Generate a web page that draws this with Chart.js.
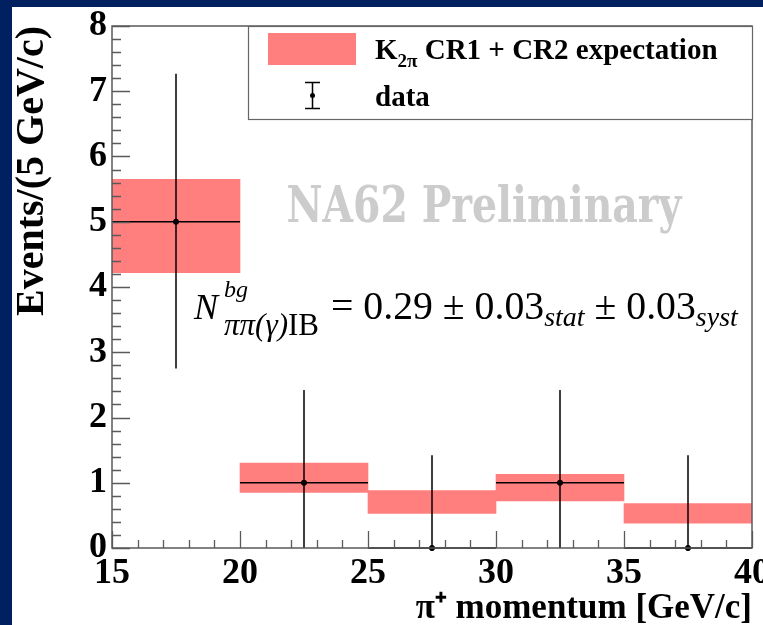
<!DOCTYPE html>
<html>
<head>
<meta charset="utf-8">
<script src="https://cdn.jsdelivr.net/npm/chart.js@4.4.1/dist/chart.umd.min.js"></script>
<style>
  html, body { margin: 0; padding: 0; background: #ffffff; }
  #wrap { position: relative; width: 763px; height: 625px; }
  canvas { display: block; }
</style>
</head>
<body>
<div id="wrap"><canvas id="c" width="763" height="625"></canvas></div>
<script>
// ---- data ----
const binLow   = [15, 20, 25, 30, 35];
const binHigh  = [20, 25, 30, 35, 40];
const expLow   = [4.22, 0.85, 0.53, 0.72, 0.38];   // K2pi expectation band, lower edge
const expHigh  = [5.65, 1.30, 0.88, 1.13, 0.68];   // K2pi expectation band, upper edge
const dataCounts = [5, 1, 0, 1, 0];
const dataErrLow  = [2.75, 0, 0, 0, 0];
const dataErrHigh = [7.27, 2.42, 1.42, 2.42, 1.42];
const xTicks = [15, 20, 25, 30, 35, 40];
const yTicks = [0, 1, 2, 3, 4, 5, 6, 7, 8];

const legendLabels = ['CR1 + CR2 expectation', 'data'];
const xTitle = 'π⁺ momentum [GeV/c]';
const yTitle = 'Events/(5 GeV/c)';
const watermark = 'NA62 Preliminary';

// ---- derived tables ----
const centers = binLow.map((l, i) => (l + binHigh[i]) / 2);
const bandData = centers.map((c, i) => ({ x: c, y: [expLow[i], expHigh[i]] }));
const pointData = centers.map((c, i) => ({ x: c, y: dataCounts[i] }));
const vErr = [];
const hErr = [];
centers.forEach((c, i) => {
  vErr.push({ x: c, y: dataErrLow[i] }, { x: c, y: dataErrHigh[i] }, { x: c, y: null });
  hErr.push({ x: binLow[i], y: dataCounts[i] }, { x: binHigh[i], y: dataCounts[i] }, { x: binHigh[i], y: null });
});

const SERIF = '"Liberation Serif", "Times New Roman", serif';
const FRAME = '#5a5a5a';
const BAND = '#ff7f7f';

const decor = {
  id: 'decor',
  beforeDraw(chart) {
    const ctx = chart.ctx;
    ctx.save();
    ctx.fillStyle = '#002060';
    ctx.fillRect(0, 0, chart.width, chart.height);
    ctx.fillStyle = '#ffffff';
    ctx.fillRect(12, 7, chart.width - 12, chart.height - 7);
    ctx.restore();
  },
  beforeDatasetsDraw(chart) {
    const ctx = chart.ctx;
    ctx.save();
    // watermark
    ctx.fillStyle = '#cccccc';
    let fs = 38;
    ctx.font = 'bold ' + fs + 'px "DejaVu Serif", serif';
    let w = ctx.measureText(watermark).width;
    fs = fs * 395 / w;
    ctx.font = 'bold ' + fs.toFixed(2) + 'px "DejaVu Serif", serif';
    ctx.textAlign = 'center';
    ctx.textBaseline = 'alphabetic';
    ctx.translate(484, 222);
    ctx.scale(1, 1.27);
    ctx.fillText(watermark, 0, 0);
    ctx.restore();
  },
  afterDraw(chart) {
    const ctx = chart.ctx;
    const a = chart.chartArea;
    const xs = chart.scales.x, ys = chart.scales.y;
    ctx.save();
    // ticks (inside frame)
    ctx.strokeStyle = FRAME;
    ctx.lineWidth = 1.3;
    ctx.beginPath();
    for (let v = ys.min; v <= ys.max + 1e-9; v += 0.2) {
      const y = Math.round(ys.getPixelForValue(v)) + 0.5;
      const major = Math.abs(v - Math.round(v)) < 1e-6;
      ctx.moveTo(a.left, y);
      ctx.lineTo(a.left + (major ? 18 : 9), y);
    }
    for (let v = xs.min; v <= xs.max + 1e-9; v += 1) {
      const x = Math.round(xs.getPixelForValue(v)) + 0.5;
      const major = Math.abs(v / 5 - Math.round(v / 5)) < 1e-6;
      ctx.moveTo(x, a.bottom);
      ctx.lineTo(x, a.bottom - (major ? 17 : 8));
    }
    ctx.stroke();
    // frame
    ctx.lineWidth = 1.5;
    ctx.strokeRect(a.left, a.top, a.right - a.left, a.bottom - a.top);

    // legend box
    const L = { x0: 248, y0: a.top, x1: a.right, y1: 119 };
    ctx.fillStyle = '#ffffff';
    ctx.fillRect(L.x0, L.y0, L.x1 - L.x0, L.y1 - L.y0);
    ctx.lineWidth = 1.2;
    ctx.strokeStyle = '#666666';
    ctx.strokeRect(L.x0 + 0.5, L.y0 + 0.5, L.x1 - L.x0, L.y1 - L.y0);
    ctx.fillStyle = BAND;
    ctx.fillRect(268, 33, 88, 32);
    // error bar symbol
    ctx.strokeStyle = '#000000';
    ctx.lineWidth = 1.5;
    ctx.beginPath();
    ctx.moveTo(312.5, 82); ctx.lineTo(312.5, 109);
    ctx.moveTo(305, 82.5); ctx.lineTo(320, 82.5);
    ctx.moveTo(305, 108.5); ctx.lineTo(320, 108.5);
    ctx.stroke();
    ctx.fillStyle = '#000000';
    ctx.beginPath(); ctx.arc(312.5, 95.5, 2.5, 0, Math.PI * 2); ctx.fill();
    // legend text
    ctx.textAlign = 'left';
    ctx.textBaseline = 'alphabetic';
    ctx.font = 'bold 29px ' + SERIF;
    ctx.fillText('K', 375, 59);
    let x = 375 + ctx.measureText('K').width;
    ctx.font = 'bold 19px ' + SERIF;
    ctx.fillText('2π', x, 67);
    x += ctx.measureText('2π').width;
    ctx.font = 'bold 29px ' + SERIF;
    ctx.fillText(' ' + legendLabels[0], x, 59);
    ctx.fillText(legendLabels[1], 375, 106);

    // formula
    ctx.font = 'italic 36px ' + SERIF;
    ctx.fillText('N', 194, 319);
    ctx.font = 'italic 24px ' + SERIF;
    ctx.fillText('bg', 224, 297);
    // subscript fitted to width 95
    const subA = 'ππ(γ)', subB = 'IB';
    ctx.font = 'italic 24px ' + SERIF;
    let wa = ctx.measureText(subA).width;
    ctx.font = '24px ' + SERIF;
    let wb = ctx.measureText(subB).width;
    const ks = 95 / (wa + wb);
    ctx.font = 'italic ' + (24 * ks).toFixed(2) + 'px ' + SERIF;
    ctx.fillText(subA, 224, 335);
    let sx = 224 + ctx.measureText(subA).width;
    ctx.font = (24 * ks).toFixed(2) + 'px ' + SERIF;
    ctx.fillText(subB, sx, 335);
    // right part fitted between 331 and 738
    const parts = [
      ['= 0.29 ± 0.03', 'm'], ['stat', 's'], [' ± 0.03', 'm'], ['syst', 's']
    ];
    const widthAt = (k) => {
      let t = 0;
      parts.forEach(p => {
        ctx.font = p[1] === 'm' ? (27 * k) + 'px ' + SERIF : 'italic ' + (19 * k) + 'px ' + SERIF;
        t += ctx.measureText(p[0]).width;
      });
      return t;
    };
    const k = 407 / widthAt(1);
    let px = 331;
    parts.forEach(p => {
      if (p[1] === 'm') {
        ctx.font = (27 * k) + 'px ' + SERIF;
        ctx.fillText(p[0], px, 319);
      } else {
        ctx.font = 'italic ' + (19 * k) + 'px ' + SERIF;
        ctx.fillText(p[0], px, 326);
      }
      px += ctx.measureText(p[0]).width;
    });
    ctx.restore();
  }
};

new Chart(document.getElementById('c'), {
  data: {
    datasets: [
      {
        type: 'bar', label: 'K2pi CR1 + CR2 expectation', data: bandData,
        backgroundColor: BAND, borderWidth: 0, barPercentage: 1, categoryPercentage: 1, order: 3
      },
      {
        type: 'line', label: 'data err y', data: vErr, borderColor: '#000000', borderWidth: 1.5,
        pointRadius: 0, spanGaps: false, fill: false, order: 2, clip: false
      },
      {
        type: 'line', label: 'data err x', data: hErr, borderColor: '#000000', borderWidth: 1.5,
        pointRadius: 0, spanGaps: false, fill: false, order: 2, clip: false
      },
      {
        type: 'scatter', label: 'data', data: pointData, backgroundColor: '#000000', borderColor: '#000000',
        pointRadius: 2.6, pointHoverRadius: 2.6, order: 1, clip: false
      }
    ]
  },
  options: {
    responsive: false,
    animation: false,
    events: [],
    layout: { padding: { left: 12, top: 26, right: 11, bottom: 0 } },
    plugins: { legend: { display: false }, tooltip: { enabled: false } },
    scales: {
      x: {
        type: 'linear', min: 15, max: 40, offset: false,
        afterBuildTicks(s) { s.ticks = xTicks.map(v => ({ value: v })); },
        afterFit(s) { s.height = 77; s.paddingLeft = 0; s.paddingRight = 0; },
        grid: { display: false, drawTicks: false, offset: false },
        border: { display: false },
        ticks: { color: '#000000', padding: 4, maxRotation: 0, autoSkip: false,
                 font: { family: SERIF, size: 36, weight: 'bold' } },
        title: { display: true, text: xTitle, align: 'end', color: '#000000',
                 font: { family: SERIF, size: 35, weight: 'bold' }, padding: { top: 0, bottom: -5 } }
      },
      y: {
        type: 'linear', min: 0, max: 8,
        afterBuildTicks(s) { s.ticks = yTicks.map(v => ({ value: v })); },
        afterFit(s) { s.width = 100; s.paddingTop = 0; s.paddingBottom = 0; },
        grid: { display: false, drawTicks: false },
        border: { display: false },
        ticks: { color: '#000000', padding: 5,
                 font: { family: SERIF, size: 36, weight: 'bold' } },
        title: { display: true, text: yTitle, align: 'end', color: '#000000',
                 font: { family: SERIF, size: 40, weight: 'bold' }, padding: { top: -3, bottom: 0 } }
      }
    }
  },
  plugins: [decor]
});
</script>
</body>
</html>
